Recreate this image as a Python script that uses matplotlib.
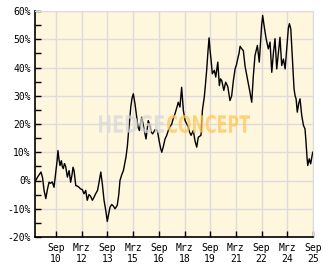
import matplotlib.pyplot as plt
from matplotlib.textpath import TextPath
from matplotlib.patches import PathPatch
from matplotlib.font_manager import FontProperties
from matplotlib.transforms import Affine2D

# decimal years and performance in percent
years = [2009.48, 2009.62, 2009.73, 2009.79, 2009.88, 2009.97, 2010.07, 2010.17, 2010.26, 2010.35,
         2010.45, 2010.55, 2010.65, 2010.73, 2010.78, 2010.84, 2010.90, 2010.98, 2011.03, 2011.09,
         2011.16, 2011.23, 2011.33, 2011.43, 2011.52, 2011.60, 2011.66, 2011.72, 2011.82, 2011.92,
         2012.01, 2012.10, 2012.20, 2012.30, 2012.40, 2012.49, 2012.59, 2012.68, 2012.79, 2012.88,
         2012.98, 2013.09, 2013.18, 2013.28, 2013.37, 2013.47, 2013.57, 2013.66, 2013.72, 2013.82,
         2013.92, 2014.01, 2014.11, 2014.24, 2014.33, 2014.40, 2014.50, 2014.60, 2014.68, 2014.75,
         2014.83, 2014.89, 2014.96, 2015.03, 2015.10, 2015.18, 2015.28, 2015.38, 2015.45, 2015.53,
         2015.60, 2015.67, 2015.75, 2015.80, 2015.92, 2016.05, 2016.15, 2016.24, 2016.31, 2016.45,
         2016.58, 2016.70, 2016.77, 2016.84, 2016.93, 2017.03, 2017.13, 2017.22, 2017.32, 2017.42,
         2017.51, 2017.61, 2017.75, 2017.80, 2017.90, 2018.00, 2018.10, 2018.20, 2018.30, 2018.39,
         2018.47, 2018.55, 2018.68, 2018.78, 2018.88, 2018.97, 2019.13, 2019.21, 2019.32, 2019.39,
         2019.46, 2019.54, 2019.60, 2019.66, 2019.72, 2019.79, 2019.91, 2019.99, 2020.11, 2020.20,
         2020.27, 2020.34, 2020.46, 2020.57, 2020.69, 2020.76, 2020.82, 2020.92, 2021.02, 2021.12,
         2021.20, 2021.27, 2021.35, 2021.41, 2021.51, 2021.60, 2021.70, 2021.80, 2021.87, 2021.95,
         2022.02, 2022.09, 2022.18, 2022.28, 2022.42, 2022.53, 2022.62, 2022.67, 2022.73, 2022.81,
         2022.93, 2023.06, 2023.16, 2023.26, 2023.36, 2023.45, 2023.55, 2023.65, 2023.74, 2023.84,
         2023.94, 2024.04, 2024.11, 2024.17, 2024.23, 2024.29, 2024.37, 2024.43, 2024.49, 2024.56,
         2024.62, 2024.68, 2024.75, 2024.84, 2024.91, 2025.01, 2025.11, 2025.20, 2025.26, 2025.32,
         2025.36, 2025.45, 2025.53, 2025.65]
perf = [0, 1.5, 2.5, 3, 1, -3.5, -6.4, -3, -0.6, -1,
        -0.5, -2.4, 3, 7, 10.6, 7.5, 5.3, 7, 5, 4.2,
        6, 5, 1.2, 3.5, -0.6, 2, 4.7, 3.5, -1.8, -2,
        -2.4, -3, -3.2, -4.7, -3.5, -7, -5, -5.5, -7, -6,
        -4.7, -3.5, -0.6, 3, -1.2, -7, -10.6, -14.5, -12.5, -9.4,
        -8.5, -9, -10, -8.8, -5, 0, 2, 3.5, 6, 8.3,
        12, 16.5, 21, 26, 29, 30.7, 27, 22.4, 19, 17.7,
        20, 22.4, 20, 18.3, 14.7, 21.2, 19.5, 17, 16.5, 18,
        17.7, 13.6, 11.5, 10, 12, 14.7, 16, 17.7, 19, 20,
        22, 23.6, 26.5, 27.7, 26, 33, 24.8, 21.2, 20, 18.9,
        17, 16, 17.7, 14, 11.8, 15.3, 16, 24.8, 29.5, 34,
        39, 46, 50.5, 46, 42.5, 37.8, 39, 36.6, 41.9, 33.6,
        36, 35.4, 31.9, 34.8, 33.3, 30.5, 28.3, 30, 35.4, 39.5,
        41, 43, 45, 47.5, 46.6, 46, 40.5, 37.2, 35, 32.5,
        30, 27.7, 36.6, 44.2, 47.8, 41.9, 50.7, 55, 58.4, 54.9,
        50.2, 46.6, 49, 38.3, 45.4, 50.2, 39.5, 45.4, 50.7, 40.7,
        43, 39.5, 45, 50.2, 54, 55.5, 53.7, 47, 40.7, 32.5,
        30, 28.9, 24.2, 27.5, 28.9, 23, 19.5, 18.3, 13.6, 8,
        5.3, 7.7, 5.9, 10]

tick_years = [2010.667, 2012.167, 2013.667, 2015.167, 2016.667, 2018.167,
              2019.667, 2021.167, 2022.667, 2024.167, 2025.667]
tick_labels = ['Sep\n10', 'Mrz\n12', 'Sep\n13', 'Mrz\n15', 'Sep\n16', 'Mrz\n18',
               'Sep\n19', 'Mrz\n21', 'Sep\n22', 'Mrz\n24', 'Sep\n25']
y_ticks = [-20, -10, 0, 10, 20, 30, 40, 50, 60]

fig = plt.figure(figsize=(3.32, 2.69), dpi=100)
ax = fig.add_axes([35 / 332, 32 / 269, 278 / 332, 226 / 269])
ax.set_facecolor('#fff6de')

ax.plot(years, perf, color='black', lw=1)

ax.set_xlim(2009.44, 2025.667)
ax.set_ylim(-20, 60)
ax.set_xticks(tick_years)
ax.set_xticklabels(tick_labels)
ax.set_yticks(y_ticks)
ax.set_yticklabels([f'{v}%' for v in y_ticks])
ax.set_yticks(range(-15, 60, 10), minor=True)

ax.grid(True, color='#dcdcdc', lw=1)
ax.set_axisbelow(True)
ax.tick_params(direction='in', length=4, width=1, color='black', labelsize=7,
               pad=3)
ax.tick_params(axis='y', which='minor', direction='in', length=4, width=1)
ax.tick_params(axis='x', pad=4)
for lab in ax.get_xticklabels() + ax.get_yticklabels():
    lab.set_family('DejaVu Sans Mono')

for side in ['top', 'right']:
    ax.spines[side].set_color('#dcdcdc')
for side in ['left', 'bottom']:
    ax.spines[side].set_color('black')
    ax.spines[side].set_linewidth(1.2)


# watermark: condensed bold letters squeezed into a pixel box
def add_word(word, x0, x1, y0, y1, color):
    tp = TextPath((0, 0), word, size=10,
                  prop=FontProperties(family='DejaVu Sans', weight='bold'))
    ext = tp.get_extents()
    tr = (Affine2D().translate(-ext.x0, -ext.y0)
          .scale((x1 - x0) / ext.width, (y1 - y0) / ext.height)
          .translate(x0, y0))
    patch = PathPatch(tp, transform=tr, facecolor=color, edgecolor='none',
                      alpha=0.75, zorder=5)
    fig.add_artist(patch)


add_word('HEDGE', 99, 164, 136, 154, '#d8d8d8')
add_word('CONCEPT', 167, 250, 136, 154, '#ffc659')

fig.savefig('out.png', dpi=100)
